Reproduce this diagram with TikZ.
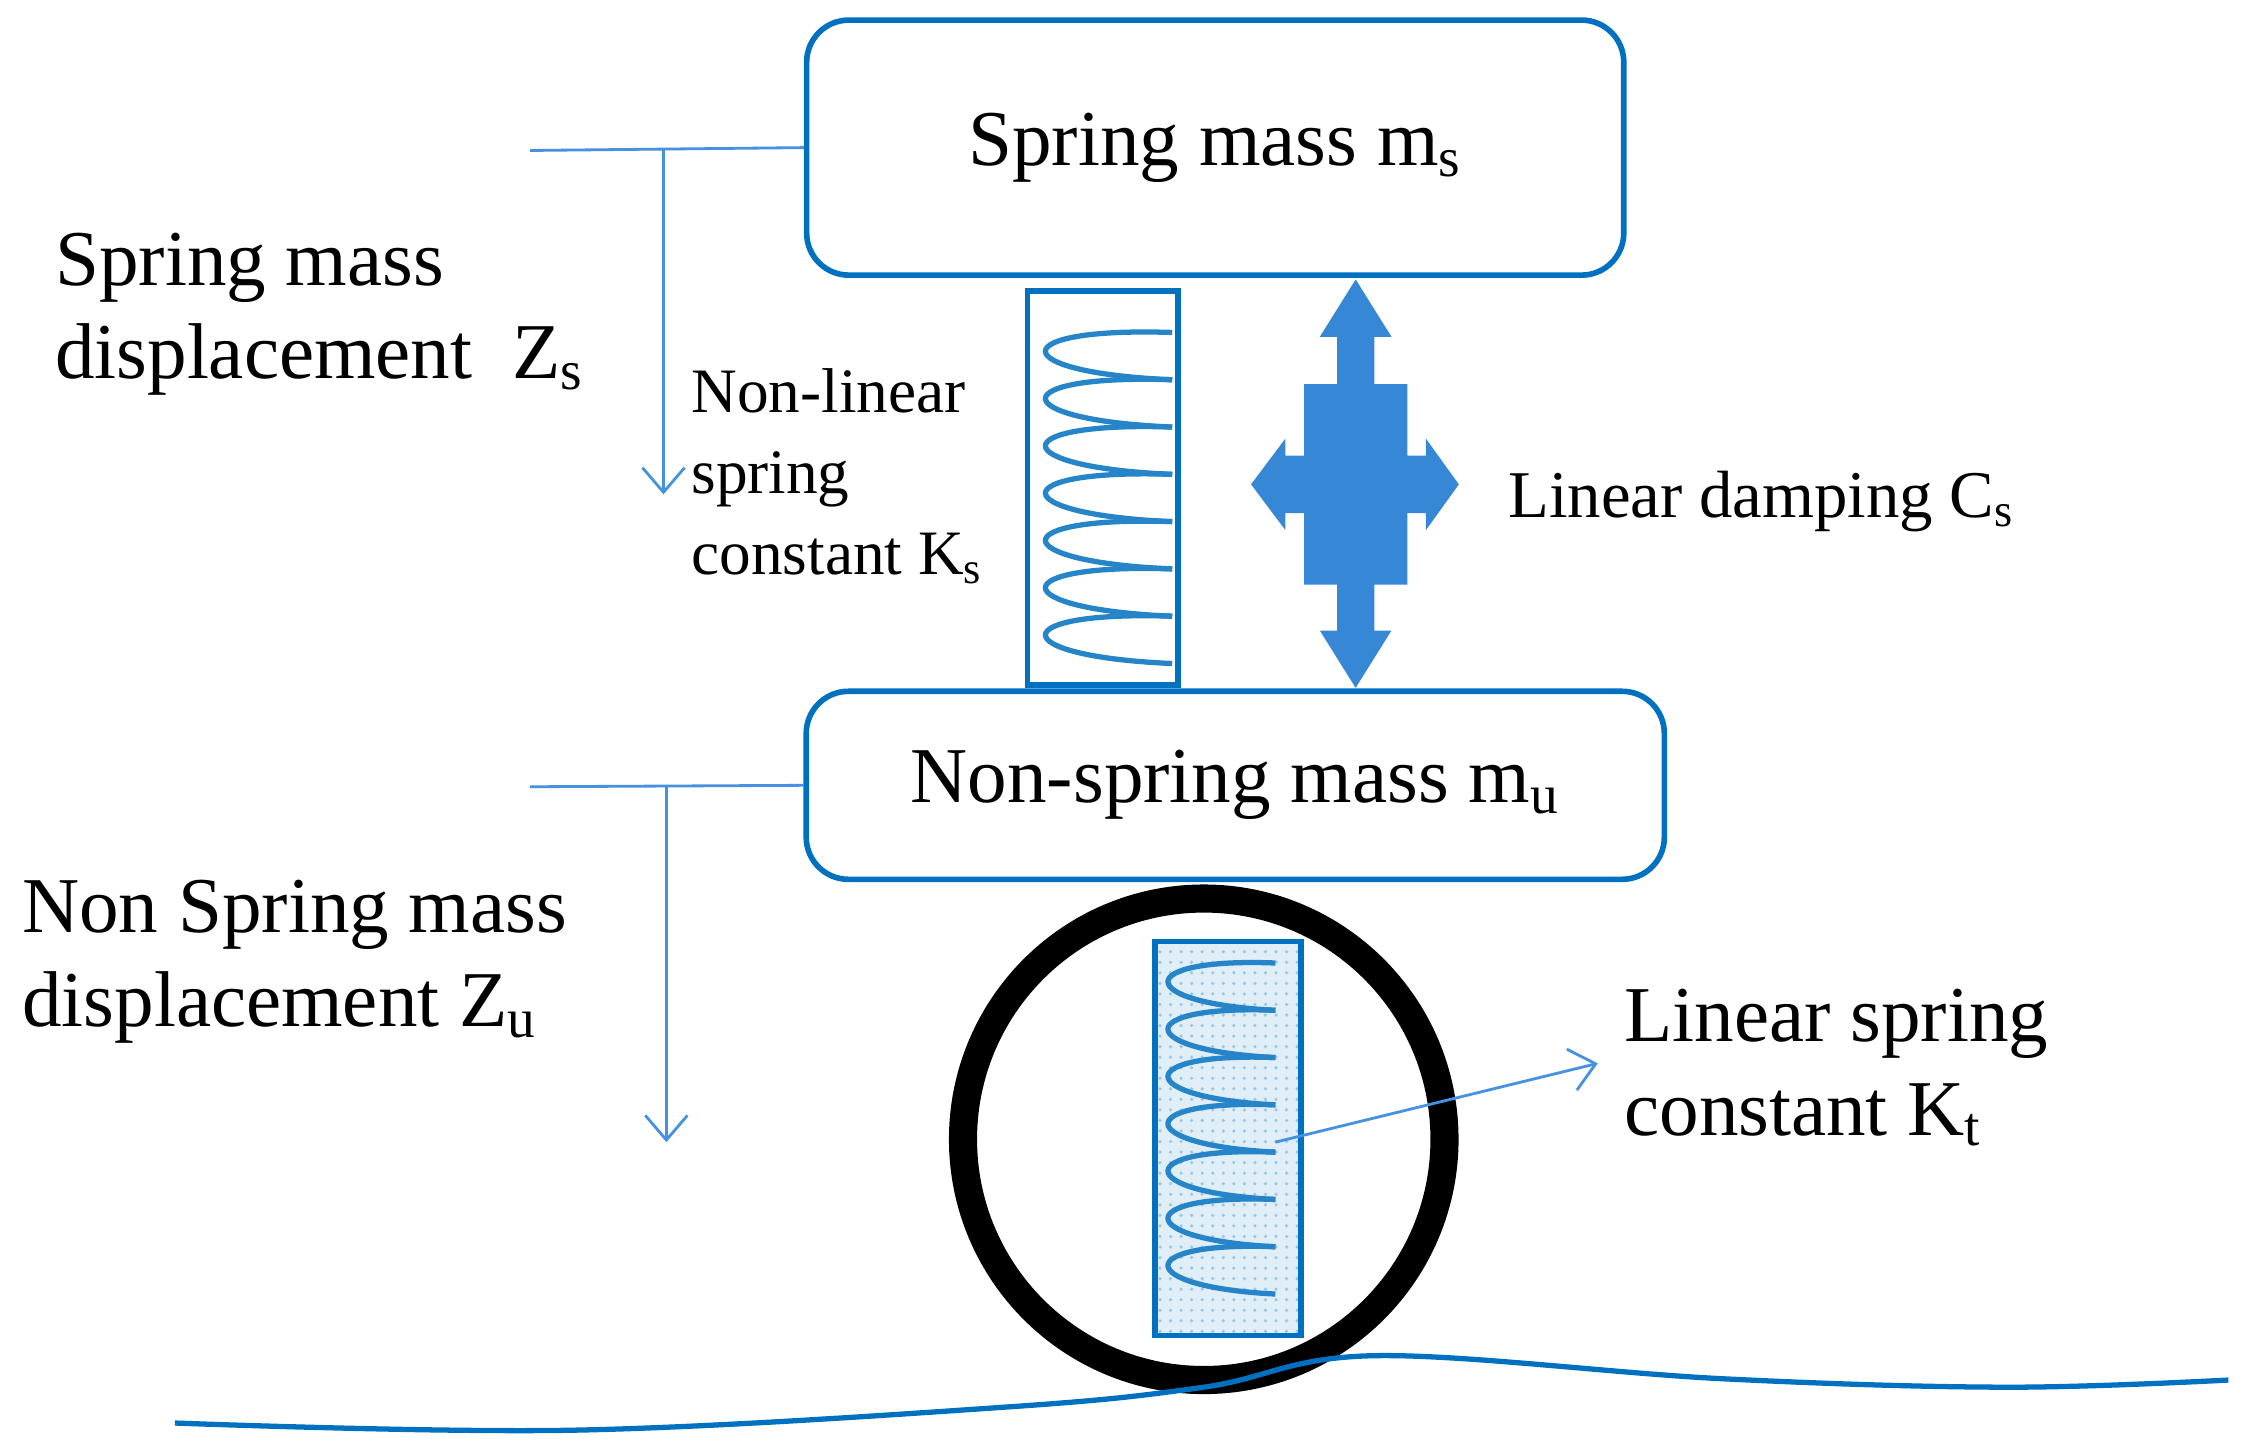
\documentclass[tikz,border=0pt]{standalone}
\usepackage{fontspec}
\setmainfont{Liberation Serif}
\usetikzlibrary{arrows.meta,positioning,patterns}
\definecolor{boxblue}{RGB}{0,112,192}
\definecolor{lineblue}{RGB}{70,145,225}
\definecolor{dampblue}{RGB}{55,135,215}
\tikzset{
  mass/.style={draw=boxblue, line width=1.6pt, rounded corners=12pt, font=\fontsize{22.5}{26}\selectfont},
  lbl/.style={align=left, anchor=north west, inner sep=0pt, font=\fontsize{22.5}{26.5}\selectfont},
  slbl/.style={align=left, anchor=north west, inner sep=0pt, font=\fontsize{18}{23}\selectfont},
  disp/.style={lineblue, line width=0.8pt},
  coil/.style={boxblue!85!white, line width=1.5pt}
}
\begin{document}
\begin{tikzpicture}[x=0.01433cm, y=-0.01433cm]
  \useasboundingbox (0,0) rectangle (1568,1010);

  % masses
  \node[mass, inner sep=0pt] (ms) at (848,103)
    [minimum width=8.17cm, minimum height=2.55cm] {Spring mass m\textsubscript{s}};
  \node[mass, inner sep=0pt] (mu) at (862,548)
    [minimum width=8.58cm, minimum height=1.88cm] {Non-spring mass m\textsubscript{u}};

  % displacements
  \coordinate (zsA) at (370,105);
  \coordinate (zsT) at (463,105);
  \coordinate (zsB) at (463,345);
  \draw[disp] (zsA) -- (ms.west);
  \draw[disp, -{Straight Barb[length=7pt, width=12pt]}] (zsT) -- (zsB);
  \coordinate (zuA) at (370,549);
  \coordinate (zuT) at (465,549);
  \coordinate (zuB) at (465,797);
  \draw[disp] (zuA) -- (mu.west);
  \draw[disp, -{Straight Barb[length=7pt, width=12pt]}] (zuT) -- (zuB);

  \node[lbl] (zs) at (38,162) {Spring mass\\displacement\ \ Z\textsubscript{s}};
  \node[lbl] (zu) at (15,614) {Non Spring mass\\displacement Z\textsubscript{u}};

  % suspension spring
  \draw[boxblue, line width=1.6pt] (717,203) rectangle (822,478);
  \foreach \y in {232,265,...,430}
    \draw[coil] (818,\y) .. controls (700,\y-4) and (700,\y+28) .. (818,\y+33);
  \node[slbl] (ks) at (482,257) {Non-linear\\spring\\constant K\textsubscript{s}};

  % damper
  \fill[dampblue] (946,195) -- (971,235) -- (959,235) -- (959,268) -- (982,268)
    -- (982,318) -- (995,318) -- (995,306) -- (1018,338) -- (995,370) -- (995,358)
    -- (982,358) -- (982,408) -- (959,408) -- (959,440) -- (971,440) -- (946,480)
    -- (921,440) -- (933,440) -- (933,408) -- (910,408) -- (910,358) -- (897,358)
    -- (897,370) -- (873,338) -- (897,306) -- (897,318) -- (910,318) -- (910,268)
    -- (933,268) -- (933,235) -- (921,235) -- cycle;
  \node[slbl, anchor=west, font=\fontsize{19}{23}\selectfont] (cs) at (1052,350) {Linear damping C\textsubscript{s}};

  % tyre
  \draw[black, line width=8pt] (840,795) circle (168);
  \fill[boxblue!12] (806,657) rectangle (908,932);
  \fill[pattern=dots, pattern color=boxblue!40] (806,657) rectangle (908,932);
  \draw[boxblue, line width=1.6pt] (806,657) rectangle (908,932);
  \foreach \y in {672,705,...,870}
    \draw[coil] (890,\y) .. controls (790,\y-4) and (790,\y+28) .. (890,\y+33);
  \coordinate (kt0) at (890,797);
  \node[lbl] (kt) at (1133,690) {Linear spring\\constant K\textsubscript{t}};
  \draw[disp, -{Straight Barb[length=7pt, width=12pt]}] (kt0) -- (1115,742);

  % road
  \draw[boxblue, line width=1.5pt] plot[smooth, tension=0.6] coordinates
    {(122,993) (400,998) (700,982) (840,968) (960,946) (1200,962) (1400,968) (1555,963)};
\end{tikzpicture}
\end{document}
